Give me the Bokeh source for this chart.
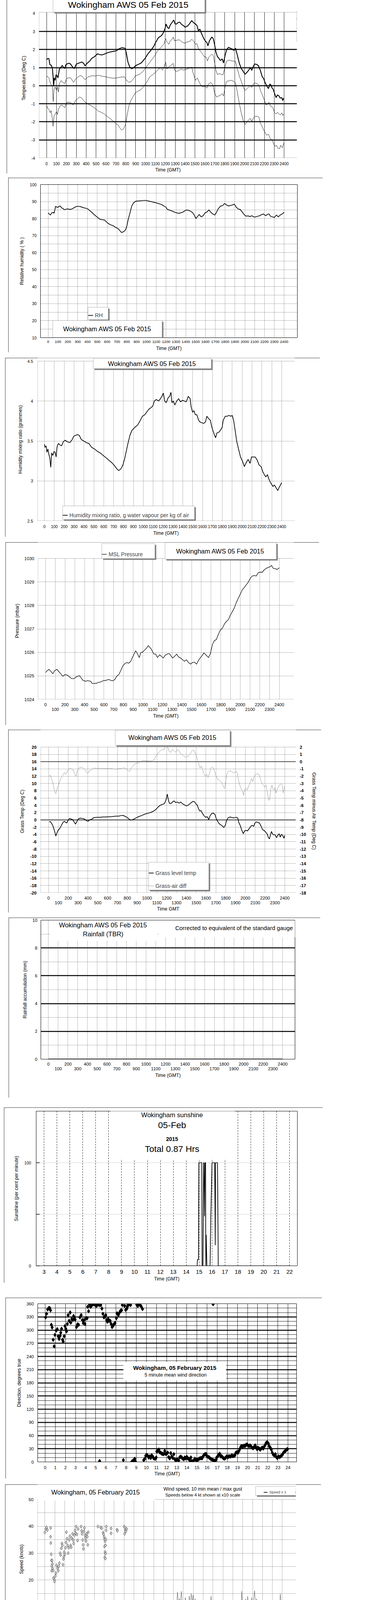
import math
from bokeh.plotting import figure
from bokeh.models import (Range1d, LinearAxis, FixedTicker, Label, BoxAnnotation,
                          Legend, LegendItem, Span, Grid)
from bokeh.layouts import column
from bokeh.embed import file_html
from bokeh.resources import INLINE

FONT = "Liberation Sans"

# ---------------- DATA (time in hours GMT) ----------------
air_temp = [(0,1.42),(0.1,1.5),(0.23,1.5),(0.33,1.17),(0.46,1.13),(0.58,0.99),(0.65,0.55),(0.71,-0.04),(0.77,0.43),(0.87,0.3),(0.96,0.61),(1.06,0.55),(1.15,0.43),(1.29,0.92),(1.42,1.0),(1.58,1.12),(1.71,1.02),(1.83,0.95),(1.96,1.17),(2.16,1.23),(2.35,1.23),(2.5,1.14),(2.64,1.02),(2.79,0.95),(3.02,1.2),(3.31,1.26),(3.56,1.31),(3.75,1.23),(3.89,1.1),(4.08,1.23),(4.37,1.37),(4.56,1.51),(4.85,1.61),(5.14,1.76),(5.37,1.72),(5.56,1.7),(5.81,1.74),(6.1,1.81),(6.39,1.86),(6.68,1.89),(7.06,1.93),(7.31,2.04),(7.6,2.1),(7.93,2.07),(8.06,1.79),(8.22,1.3),(8.41,1.02),(8.6,0.94),(8.8,0.99),(8.99,1.11),(9.28,1.18),(9.57,1.26),(9.95,1.51),(10.24,1.76),(10.53,1.95),(10.82,2.17),(11.01,2.38),(11.3,2.66),(11.59,2.76),(11.78,2.91),(11.97,3.16),(12.07,3.41),(12.22,3.22),(12.36,3.16),(12.49,3.35),(12.64,3.47),(12.84,3.63),(12.99,3.41),(13.13,3.41),(13.26,3.48),(13.45,3.52),(13.65,3.38),(13.84,3.32),(13.99,3.24),(14.22,3.29),(14.41,3.4),(14.66,3.6),(14.86,3.48),(15.05,3.41),(15.2,3.32),(15.34,3.04),(15.49,3.13),(15.63,2.91),(15.76,2.76),(15.92,2.57),(16.07,2.45),(16.2,2.38),(16.3,2.2),(16.45,2.48),(16.69,2.69),(16.84,2.6),(16.97,2.29),(17.11,1.86),(17.26,1.61),(17.42,1.51),(17.55,1.39),(17.74,1.48),(17.88,1.26),(18.03,1.67),(18.19,1.99),(18.38,2.12),(18.57,2.07),(18.76,2.03),(18.9,1.95),(19.09,2.07),(19.28,1.67),(19.48,1.23),(19.67,0.95),(19.86,0.8),(20.05,0.63),(20.25,0.74),(20.44,0.87),(20.57,1.0),(20.73,0.85),(20.88,1.05),(21.02,1.2),(21.21,1.18),(21.4,1.11),(21.59,0.86),(21.79,0.49),(21.92,0.41),(22.07,0.18),(22.27,-0.04),(22.42,-0.16),(22.56,0.09),(22.65,0.05),(22.79,-0.13),(22.9,-0.2),(23.04,-0.44),(23.19,-0.66),(23.33,-0.51),(23.48,-0.57),(23.61,-0.69),(23.77,-0.66),(23.86,-0.82),(23.96,-0.69)]
wet_bulb = [(0,0.48),(0.1,0.52),(0.23,0.43),(0.37,0.15),(0.46,0.05),(0.58,-0.01),(0.67,-0.88),(0.75,-0.2),(0.87,-0.07),(1.0,-0.26),(1.1,-0.07),(1.19,-0.35),(1.29,0.12),(1.48,0.29),(1.64,0.18),(1.83,0.12),(2.02,0.4),(2.25,0.44),(2.44,0.43),(2.73,0.18),(2.93,0.36),(3.18,0.49),(3.41,0.56),(3.6,0.52),(3.89,0.33),(4.18,0.48),(4.56,0.55),(4.95,0.54),(5.23,0.58),(5.62,0.52),(6.0,0.49),(6.39,0.44),(6.77,0.41),(7.16,0.44),(7.54,0.48),(7.87,0.49),(8.06,0.3),(8.31,0.19),(8.51,0.21),(8.7,0.33),(8.99,0.55),(9.37,0.62),(9.76,0.8),(10.14,1.08),(10.53,1.37),(10.91,1.64),(11.2,1.92),(11.39,2.03),(11.64,2.17),(11.87,2.32),(12.03,2.6),(12.16,2.42),(12.36,2.29),(12.49,2.48),(12.64,2.54),(12.8,2.69),(12.93,2.48),(13.13,2.51),(13.41,2.54),(13.61,2.45),(13.8,2.38),(13.99,2.35),(14.22,2.42),(14.47,2.45),(14.66,2.57),(14.86,2.45),(15.05,2.29),(15.2,2.32),(15.34,2.04),(15.53,1.92),(15.72,1.79),(15.92,1.61),(16.11,1.58),(16.26,1.37),(16.4,1.58),(16.69,1.74),(16.84,1.67),(16.97,1.3),(17.11,0.86),(17.26,0.61),(17.46,0.68),(17.65,0.61),(17.84,0.61),(17.99,0.99),(18.19,1.35),(18.42,1.42),(18.65,1.37),(18.9,1.36),(19.09,1.33),(19.28,0.92),(19.48,0.52),(19.67,0.24),(19.86,-0.07),(20.05,-0.26),(20.25,-0.16),(20.44,-0.07),(20.57,0.0),(20.73,-0.1),(20.88,0.09),(21.07,0.15),(21.27,0.12),(21.46,0.0),(21.65,-0.32),(21.84,-0.57),(22.04,-0.85),(22.17,-1.07),(22.33,-1.03),(22.46,-0.91),(22.61,-1.13),(22.77,-1.16),(22.88,-1.25),(23.04,-1.5),(23.19,-1.56),(23.33,-1.47),(23.48,-1.56),(23.61,-1.62),(23.77,-1.5),(23.86,-1.65),(23.96,-1.56)]
dew_point = [(0,-1.07),(0.1,-1.25),(0.23,-1.31),(0.37,-1.5),(0.46,-1.38),(0.58,-1.81),(0.65,-2.25),(0.75,-1.69),(0.87,-1.56),(1.0,-1.44),(1.1,-1.59),(1.19,-1.31),(1.39,-1.1),(1.58,-1.07),(1.71,-1.16),(1.83,-1.22),(2.02,-0.94),(2.25,-0.91),(2.44,-0.94),(2.68,-1.07),(2.93,-0.82),(3.12,-0.72),(3.31,-0.63),(3.5,-0.66),(3.7,-0.79),(3.89,-0.91),(4.08,-0.97),(4.37,-1.07),(4.66,-1.16),(4.95,-1.28),(5.23,-1.41),(5.52,-1.47),(5.81,-1.56),(6.1,-1.69),(6.39,-1.81),(6.68,-1.94),(6.97,-2.09),(7.22,-2.18),(7.41,-2.34),(7.6,-2.46),(7.79,-2.37),(7.99,-2.12),(8.12,-1.69),(8.31,-1.13),(8.51,-0.82),(8.7,-0.63),(8.99,-0.38),(9.28,-0.29),(9.57,-0.2),(9.85,-0.01),(10.14,0.21),(10.43,0.49),(10.72,0.61),(11.01,0.74),(11.3,0.92),(11.53,0.99),(11.72,0.86),(11.87,1.05),(12.03,1.3),(12.16,0.92),(12.36,1.05),(12.55,1.11),(12.8,1.23),(12.93,0.86),(13.13,0.77),(13.38,0.86),(13.61,0.92),(13.8,0.86),(13.99,0.89),(14.22,0.92),(14.47,0.99),(14.66,1.02),(14.86,0.61),(15.05,0.3),(15.24,0.43),(15.43,0.18),(15.63,-0.01),(15.82,-0.07),(16.01,-0.04),(16.2,-0.13),(16.34,0.08),(16.59,0.18),(16.78,0.06),(16.97,-0.38),(17.17,-0.63),(17.36,-0.57),(17.55,-0.54),(17.74,-0.44),(17.88,-0.57),(18.03,-0.07),(18.19,0.24),(18.42,0.27),(18.65,0.3),(18.9,0.24),(19.09,0.15),(19.28,-0.38),(19.48,-1.0),(19.67,-1.5),(19.86,-1.91),(20.05,-2.15),(20.25,-2.0),(20.44,-1.88),(20.57,-1.81),(20.73,-1.97),(20.88,-1.81),(21.07,-1.69),(21.27,-1.69),(21.46,-1.75),(21.65,-2.12),(21.84,-2.34),(22.04,-2.56),(22.23,-2.74),(22.42,-2.68),(22.61,-2.93),(22.77,-2.99),(22.92,-3.18),(23.08,-3.36),(23.23,-3.3),(23.38,-3.46),(23.54,-3.49),(23.65,-3.3),(23.81,-3.43),(23.96,-3.18)]
rel_hum = [(0,83.4),(0.1,82.7),(0.24,82.1),(0.36,83.4),(0.52,83.7),(0.6,83.1),(0.68,85.1),(0.75,87.2),(0.85,86.9),(0.95,86.5),(1.09,87.1),(1.23,87.4),(1.35,86.4),(1.51,85.9),(1.65,85.2),(1.85,85.6),(2.05,85.6),(2.25,85.4),(2.44,85.7),(2.64,86.4),(2.84,87.1),(3.04,87.2),(3.24,87.1),(3.44,86.7),(3.64,86.3),(3.83,86.1),(4.03,85.7),(4.23,84.7),(4.43,83.7),(4.73,82.1),(5.03,80.7),(5.23,79.7),(5.42,79.4),(5.72,79.2),(5.92,78.1),(6.12,77.1),(6.32,76.4),(6.62,75.8),(6.87,74.8),(7.11,74.1),(7.31,72.8),(7.47,71.8),(7.67,72.3),(7.87,73.4),(8.01,75.8),(8.15,79.7),(8.31,83.1),(8.5,87.4),(8.7,89.4),(8.9,90.2),(9.2,90.4),(9.5,90.5),(9.8,90.7),(10.1,90.5),(10.29,90.2),(10.59,89.8),(10.89,89.4),(11.19,88.9),(11.48,88.4),(11.78,87.4),(11.98,86.7),(12.12,85.4),(12.28,85.1),(12.48,84.7),(12.68,84.3),(12.88,83.7),(13.07,83.4),(13.27,83.1),(13.47,83.4),(13.67,83.7),(13.87,84.5),(14.07,85.1),(14.27,84.9),(14.46,84.4),(14.66,83.7),(14.86,82.1),(15.02,80.0),(15.16,81.0),(15.36,82.4),(15.56,81.0),(15.76,81.7),(15.96,83.4),(16.15,83.9),(16.35,85.1),(16.55,83.7),(16.75,82.7),(16.95,82.1),(17.09,83.4),(17.29,85.7),(17.54,87.4),(17.74,87.6),(17.94,88.9),(18.14,88.0),(18.34,87.4),(18.53,87.7),(18.73,88.0),(18.93,88.5),(19.13,86.7),(19.33,85.6),(19.53,85.4),(19.73,83.9),(19.93,82.4),(20.12,81.4),(20.32,81.6),(20.52,81.2),(20.72,81.7),(20.92,81.0),(21.12,81.0),(21.32,81.4),(21.52,81.7),(21.71,82.4),(21.91,82.7),(22.11,81.7),(22.31,82.5),(22.47,82.7),(22.61,81.4),(22.81,81.0),(23.01,80.7),(23.21,82.1),(23.41,81.0),(23.6,82.1),(23.8,82.7),(24.0,83.7)]
mix_ratio = [(0,3.46),(0.06,3.42),(0.16,3.44),(0.25,3.36),(0.35,3.4),(0.45,3.33),(0.54,3.29),(0.64,3.17),(0.73,3.35),(0.85,3.32),(0.97,3.37),(1.08,3.36),(1.18,3.3),(1.28,3.43),(1.41,3.47),(1.57,3.45),(1.74,3.44),(1.9,3.49),(2.09,3.51),(2.32,3.49),(2.57,3.48),(2.82,3.52),(2.96,3.56),(3.13,3.57),(3.33,3.58),(3.53,3.57),(3.72,3.52),(3.97,3.5),(4.24,3.48),(4.49,3.47),(4.78,3.42),(5.07,3.4),(5.36,3.37),(5.65,3.35),(5.94,3.32),(6.23,3.29),(6.52,3.26),(6.81,3.23),(7.1,3.19),(7.33,3.15),(7.52,3.13),(7.72,3.15),(7.91,3.19),(8.1,3.27),(8.26,3.36),(8.45,3.47),(8.65,3.57),(8.84,3.63),(9.13,3.67),(9.43,3.7),(9.66,3.75),(9.91,3.81),(10.16,3.83),(10.39,3.87),(10.58,3.9),(10.81,3.92),(10.97,3.94),(11.12,4.0),(11.32,4.02),(11.55,4.0),(11.74,4.03),(11.93,4.07),(12.03,4.1),(12.17,4.0),(12.32,3.98),(12.51,4.04),(12.67,4.06),(12.8,4.11),(12.9,3.98),(13.05,4.0),(13.19,3.95),(13.38,4.0),(13.58,4.03),(13.77,3.99),(13.97,4.01),(14.16,4.0),(14.35,3.99),(14.55,4.06),(14.74,4.03),(14.84,3.93),(14.99,3.86),(15.13,3.88),(15.26,3.83),(15.42,3.83),(15.57,3.77),(15.71,3.74),(15.9,3.73),(16.11,3.72),(16.3,3.74),(16.43,3.81),(16.62,3.78),(16.78,3.76),(16.97,3.66),(17.16,3.59),(17.32,3.54),(17.45,3.6),(17.65,3.61),(17.84,3.64),(17.98,3.67),(18.09,3.76),(18.29,3.81),(18.48,3.81),(18.67,3.82),(18.86,3.81),(19.0,3.82),(19.14,3.76),(19.3,3.63),(19.45,3.5),(19.64,3.4),(19.84,3.3),(20.03,3.25),(20.23,3.18),(20.42,3.23),(20.61,3.27),(20.81,3.22),(20.95,3.3),(21.14,3.3),(21.33,3.3),(21.53,3.26),(21.72,3.2),(21.92,3.18),(22.11,3.11),(22.25,3.08),(22.4,3.05),(22.56,3.08),(22.69,3.03),(22.83,2.99),(22.98,2.96),(23.13,2.93),(23.27,2.95),(23.46,2.91),(23.62,2.88),(23.75,2.92),(23.89,2.95),(24.0,2.98)]
msl_pressure = [(0,1025.14),(0.14,1025.21),(0.35,1025.28),(0.55,1025.19),(0.76,1025.09),(0.9,1025.21),(1.17,1025.28),(1.37,1025.18),(1.57,1025.09),(1.78,1024.98),(1.98,1025.06),(2.19,1025.04),(2.39,1024.99),(2.66,1024.89),(2.9,1024.88),(3.21,1024.97),(3.48,1025.01),(3.62,1024.94),(3.82,1024.82),(4.09,1024.77),(4.33,1024.8),(4.64,1024.77),(4.79,1024.68),(5.05,1024.68),(5.26,1024.69),(5.46,1024.73),(5.67,1024.74),(5.87,1024.79),(6.18,1024.81),(6.5,1024.85),(6.7,1024.81),(6.9,1024.79),(7.12,1024.85),(7.32,1024.99),(7.53,1025.06),(7.73,1025.23),(7.93,1025.42),(8.14,1025.52),(8.34,1025.57),(8.55,1025.54),(8.75,1025.62),(8.9,1025.76),(9.06,1025.9),(9.26,1026.07),(9.43,1025.95),(9.63,1025.78),(9.77,1025.98),(9.98,1026.02),(10.18,1026.1),(10.39,1026.19),(10.55,1026.29),(10.7,1026.22),(10.86,1026.14),(11.0,1026.02),(11.14,1025.93),(11.3,1025.93),(11.5,1025.78),(11.72,1025.9),(11.92,1025.83),(12.09,1025.76),(12.29,1025.88),(12.5,1025.93),(12.7,1025.95),(12.84,1025.88),(13.05,1025.76),(13.25,1025.83),(13.46,1025.93),(13.66,1025.81),(13.86,1025.76),(14.07,1025.69),(14.27,1025.62),(14.48,1025.69),(14.68,1025.57),(14.89,1025.5),(15.09,1025.57),(15.3,1025.59),(15.5,1025.5),(15.71,1025.66),(15.91,1025.78),(16.11,1025.88),(16.26,1025.98),(16.46,1025.9),(16.73,1025.78),(16.93,1025.95),(17.14,1026.34),(17.34,1026.5),(17.55,1026.55),(17.75,1026.77),(17.96,1026.96),(18.16,1027.03),(18.36,1027.2),(18.57,1027.32),(18.77,1027.39),(18.98,1027.59),(19.18,1027.73),(19.39,1027.9),(19.59,1028.12),(19.8,1028.31),(20.0,1028.48),(20.21,1028.67),(20.41,1028.76),(20.62,1028.88),(20.82,1028.99),(21.02,1029.15),(21.23,1029.25),(21.43,1029.27),(21.64,1029.25),(21.84,1029.39),(22.05,1029.41),(22.25,1029.41),(22.45,1029.51),(22.66,1029.58),(22.86,1029.61),(23.07,1029.65),(23.21,1029.7),(23.37,1029.58),(23.58,1029.56),(23.78,1029.53),(24.0,1029.6)]
grass_temp = [(0.06,-0.53),(0.17,-0.44),(0.32,-1.0),(0.44,-1.62),(0.55,-2.55),(0.65,-3.48),(0.74,-4.42),(0.84,-3.64),(0.97,-2.86),(1.12,-2.4),(1.28,-1.62),(1.43,-0.84),(1.6,-0.37),(1.75,-0.68),(1.85,-0.84),(2.0,0.0),(2.13,0.4),(2.27,0.25),(2.44,0.09),(2.59,-0.53),(2.74,-1.15),(2.86,-0.53),(3.01,0.25),(3.22,0.5),(3.43,0.4),(3.64,0.25),(3.85,-0.22),(4.0,-0.37),(4.17,0.0),(4.38,0.19),(4.59,0.62),(4.91,0.72),(5.22,0.72),(5.54,0.81),(5.85,0.81),(6.17,0.87),(6.48,0.93),(6.8,1.03),(7.12,1.03),(7.33,1.18),(7.54,1.24),(7.75,1.03),(7.96,0.72),(8.17,0.25),(8.34,-0.06),(8.48,0.0),(8.69,0.25),(8.91,0.56),(9.12,0.87),(9.43,1.18),(9.75,1.56),(10.06,1.8),(10.38,2.05),(10.69,2.43),(10.91,2.89),(11.12,3.51),(11.33,3.98),(11.54,4.23),(11.75,4.45),(11.85,4.91),(11.96,5.85),(12.06,7.09),(12.17,5.54),(12.27,4.6),(12.42,4.45),(12.59,4.91),(12.76,5.23),(12.91,4.76),(13.08,4.91),(13.26,4.6),(13.43,4.91),(13.6,4.45),(13.81,4.14),(14.02,3.83),(14.23,4.14),(14.44,4.6),(14.65,5.07),(14.8,5.07),(14.97,4.45),(15.12,3.98),(15.24,3.05),(15.37,2.43),(15.49,2.58),(15.64,1.8),(15.79,1.18),(15.96,0.72),(16.13,0.87),(16.27,0.09),(16.42,1.18),(16.59,1.8),(16.76,1.87),(16.91,1.49),(17.05,0.25),(17.18,-0.37),(17.33,-1.0),(17.47,-1.31),(17.64,-1.62),(17.81,-2.08),(17.96,-1.46),(18.06,-0.37),(18.23,0.56),(18.44,0.81),(18.65,0.62),(18.86,0.56),(19.07,0.72),(19.22,0.56),(19.33,-0.68),(19.49,-1.62),(19.64,-2.86),(19.79,-3.79),(19.92,-3.02),(20.06,-2.86),(20.21,-3.02),(20.38,-2.4),(20.55,-1.77),(20.69,-1.46),(20.84,-1.77),(20.97,-0.84),(21.12,-0.53),(21.26,-0.68),(21.43,-0.84),(21.6,-1.77),(21.75,-2.71),(21.89,-2.86),(22.06,-3.33),(22.23,-3.95),(22.34,-4.88),(22.44,-5.19),(22.55,-4.1),(22.65,-3.17),(22.78,-3.95),(22.91,-4.1),(23.03,-4.1),(23.16,-4.88),(23.28,-4.26),(23.43,-3.79),(23.54,-4.73),(23.66,-3.95),(23.79,-4.26),(23.92,-5.04),(24.0,-4.26)]
grass_air_diff = [(0.06,-1.98),(0.17,-1.85),(0.32,-2.44),(0.44,-2.91),(0.55,-3.69),(0.65,-4.23),(0.74,-4.39),(0.84,-3.84),(0.97,-3.37),(1.12,-2.75),(1.28,-2.21),(1.43,-1.9),(1.6,-1.51),(1.75,-1.74),(1.9,-1.35),(2.02,-1.04),(2.17,-0.89),(2.34,-1.04),(2.48,-1.12),(2.65,-1.66),(2.8,-2.05),(2.9,-1.35),(3.07,-0.89),(3.28,-0.76),(3.49,-0.86),(3.7,-1.12),(3.87,-1.51),(4.0,-1.59),(4.17,-1.23),(4.38,-1.07),(4.59,-0.89),(4.91,-0.92),(5.22,-0.93),(5.54,-0.93),(5.85,-0.95),(6.17,-0.93),(6.48,-0.96),(6.8,-1.04),(7.12,-0.96),(7.43,-0.93),(7.64,-0.86),(7.85,-0.92),(8.06,-1.2),(8.21,-1.35),(8.34,-1.04),(8.48,-0.73),(8.69,-0.39),(8.91,-0.23),(9.12,-0.19),(9.33,0.02),(9.64,0.17),(9.96,0.12),(10.23,0.08),(10.48,0.12),(10.74,0.28),(10.91,0.75),(11.12,1.14),(11.33,1.45),(11.54,1.68),(11.71,1.6),(11.79,1.91),(11.96,2.07),(12.13,1.91),(12.27,1.37),(12.42,1.29),(12.59,1.68),(12.76,1.45),(12.91,1.29),(13.08,1.63),(13.26,1.52),(13.43,1.06),(13.64,0.9),(13.85,0.64),(14.06,0.67),(14.23,0.82),(14.4,1.06),(14.57,1.48),(14.74,1.6),(14.91,1.14),(15.03,0.75),(15.16,0.12),(15.28,-0.34),(15.41,-0.89),(15.54,-0.58),(15.66,-1.12),(15.79,-1.66),(15.92,-2.0),(16.06,-1.74),(16.21,-2.16),(16.34,-1.66),(16.48,-0.89),(16.63,-0.73),(16.76,-0.89),(16.91,-1.51),(17.05,-2.05),(17.18,-2.44),(17.33,-2.52),(17.47,-2.75),(17.64,-2.91),(17.79,-3.53),(17.89,-3.69),(18.0,-2.6),(18.11,-1.74),(18.27,-1.35),(18.44,-1.23),(18.65,-1.38),(18.8,-1.59),(18.95,-1.38),(19.07,-1.35),(19.18,-1.59),(19.28,-2.44),(19.43,-3.22),(19.58,-3.76),(19.71,-4.07),(19.81,-4.62),(19.92,-3.84),(20.06,-3.69),(20.17,-3.92),(20.32,-3.37),(20.48,-2.91),(20.63,-2.29),(20.76,-2.75),(20.91,-1.98),(21.06,-1.74),(21.22,-1.66),(21.39,-1.74),(21.54,-2.44),(21.69,-2.99),(21.81,-3.22),(21.96,-3.5),(22.11,-3.22),(22.21,-4.15),(22.32,-4.85),(22.4,-5.32),(22.49,-4.93),(22.59,-3.69),(22.7,-3.22),(22.8,-3.76),(22.91,-3.92),(23.01,-3.56),(23.12,-4.31),(23.22,-3.84),(23.37,-3.45),(23.5,-3.14),(23.64,-3.06),(23.75,-3.22),(23.85,-4.31),(24.0,-3.37)]
rain_accum = [(0,0.0),(6,0.0),(12,0.0),(18,0.0),(24,0.0)]
sunshine = [(3.0,0),(14.85,0),(14.87,6),(14.95,6),(14.98,100),(15.21,100),(15.23,0),(15.3,0),(15.35,100),(15.37,100),(15.42,48),(15.45,100),(15.5,100),(15.52,0),(15.55,30),(15.6,0),(15.85,0),(15.9,45),(16.0,100),(16.2,100),(16.22,73),(16.25,20),(16.27,100),(16.42,100),(16.45,58),(16.48,0),(22.0,0)]
wind_dir = [(0.04,329),(0.14,337),(0.24,347),(0.36,350),(0.45,350),(0.53,345),(0.61,312),(0.69,306),(0.79,278),(0.89,263),(0.97,289),(1.1,299),(1.19,302),(1.28,286),(1.38,280),(1.48,287),(1.54,294),(1.62,303),(1.72,278),(1.78,274),(1.88,286),(1.96,309),(2.04,303),(2.11,297),(2.19,314),(2.27,334),(2.37,321),(2.47,340),(2.53,317),(2.63,325),(2.73,323),(2.81,332),(2.89,326),(2.96,324),(3.1,307),(3.2,313),(3.3,312),(3.44,329),(3.56,334),(3.68,323),(3.77,316),(3.85,323),(3.93,314),(4.05,327),(4.15,327),(4.21,353),(4.29,343),(4.39,358),(4.49,353),(4.57,355),(4.66,358),(4.78,359),(4.9,358),(5.04,355),(5.14,357),(5.26,358),(5.38,357),(5.49,357),(5.61,349),(5.71,337),(5.81,329),(5.91,331),(5.99,334),(6.07,323),(6.15,319),(6.23,325),(6.32,321),(6.42,321),(6.52,314),(6.62,307),(6.72,310),(6.82,314),(6.9,316),(7.04,327),(7.11,338),(7.23,334),(7.35,340),(7.45,344),(7.55,345),(7.63,357),(7.85,355),(7.96,346),(8.08,349),(8.14,354),(8.22,359),(8.32,359),(8.44,357),(9.05,358),(9.15,355),(9.27,359),(9.37,357),(9.49,354),(9.62,348),(16.6,359),
            (5.38,2),(7.73,4),(8.56,0.5),(8.66,2),(8.75,4),(8.85,7),(8.93,0.5),(9.74,4),(9.84,7),(9.94,14),(10.04,16),(10.14,14),(10.24,10),(10.34,12.5),(10.43,9),(10.53,15),(10.63,12.5),(10.73,8),(10.87,7),(10.97,10),(11.03,24),(11.13,25),(11.23,28),(11.32,22),(11.42,21),(11.52,19),(11.62,18),(11.72,18),(11.82,25),(11.92,18),(12.02,19),(12.11,21),(12.21,11),(12.31,8),(12.41,20),(12.51,12.5),(12.61,9),(12.71,17.5),(12.81,6),(12.91,3),(13.0,5.5),(13.1,5.5),(13.2,3),(13.3,10.5),(13.4,12),(13.5,10),(13.6,7.5),(13.7,6),(13.8,10),(13.9,8),(14.0,11.5),(14.1,8),(14.2,7),(14.3,3),(14.4,10),(14.5,2),(14.6,0),(14.7,4),(14.8,7),(14.9,4),(15.0,5),(15.1,5),(15.2,7),(15.3,8),(15.4,9),(15.5,8),(15.6,12.5),(15.7,16),(15.8,17.5),(15.9,18),(16.0,12.5),(16.1,11.5),(16.2,10.5),(16.3,8),(16.4,6.5),(16.5,5.5),(16.6,4),(16.7,3),(16.8,2),(16.9,5.5),(16.95,10),(17.05,12.5),(17.15,16.5),(17.25,18.5),(17.35,12.5),(17.45,13),(17.55,10),(17.65,8),(17.75,7.5),(17.85,10),(17.95,12.5),(18.05,10.5),(18.15,13),(18.25,12.5),(18.35,12.5),(18.45,15),(18.55,13),(18.65,14),(18.75,15),(18.85,21),(18.95,22),(19.05,21),(19.15,25),(19.25,30),(19.35,35),(19.45,36),(19.55,35),(19.65,37),(19.75,36),(19.85,39),(19.95,39.5),(20.05,37.5),(20.15,36),(20.25,37.5),(20.35,35),(20.45,32.5),(20.55,31),(20.65,34),(20.75,37.5),(20.85,33),(20.95,29),(21.05,32),(21.15,30.5),(21.25,28),(21.35,30.5),(21.45,32.5),(21.55,30.5),(21.65,35),(21.75,39),(21.85,43.5),(21.95,44.5),(22.05,42),(22.15,35.5),(22.25,32.5),(22.35,28),(22.45,21),(22.55,16.5),(22.65,15),(22.75,17.5),(22.85,11),(22.95,9),(23.05,12.5),(23.15,11),(23.25,12.5),(23.35,14),(23.45,16.5),(23.55,21),(23.65,23.5),(23.75,25),(23.85,28),(23.95,29)]
wind_mean = [(0,3.7),(0.2,3.9),(0.44,5.0),(0.54,3.7),(0.64,2.2),(0.83,2.4),(1.02,2.0),(1.21,2.35),(1.5,2.4),(1.8,2.65),(2.02,2.85),(2.27,2.9),(2.56,3.3),(2.85,3.5),(3.14,3.8),(3.43,4.1),(3.62,3.7),(3.82,3.2),(4.1,3.3),(4.4,4.1),(4.68,5.0),(4.88,5.8),(5.07,5.2),(5.26,4.3),(5.55,4.3),(5.84,3.9),(6.07,2.8),(6.32,3.9),(6.61,5.0),(6.8,4.95),(7.09,5.3),(7.29,4.3),(7.58,4.1),(7.87,3.9),(8.15,4.1),(8.44,4.3),(8.73,4.95),(9.02,5.3),(9.31,5.6),(9.6,4.95),(9.89,5.4),(10.18,6.0),(10.47,5.2),(10.76,6.0),(11.05,5.6),(11.28,8.5),(11.53,7.5),(11.82,7.9),(12.1,7.7),(12.36,6.6),(12.59,7.9),(12.88,8.5),(13.17,8.1),(13.32,7.3),(13.46,8.1),(13.71,9.6),(13.94,8.3),(14.13,7.3),(14.42,7.9),(14.61,7.1),(14.9,9.6),(15.19,8.5),(15.48,8.1),(15.77,6.2),(16.06,6.4),(16.35,5.9),(16.64,6.4),(16.93,8.5),(17.12,7.9),(17.41,6.2),(17.76,4.6),(18.08,4.95),(18.37,5.4),(18.76,5.6),(18.95,7.3),(19.24,6.4),(19.53,7.1),(19.82,6.6),(20.01,6.2),(20.3,6.6),(20.49,7.3),(20.78,8.1),(20.98,7.4),(21.26,7.7),(21.46,9.2),(21.75,7.3),(22.04,6.8),(22.27,5.6),(22.61,6.2),(22.99,4.7),(23.29,5.3),(23.58,6.0),(23.77,6.6),(24.0,8.8)]
# max gust, one reading every 6 minutes from 00:00
wind_gust = [6.5,8.0,5.0,8.8,6.0,5.5,3.8,4.5,3.2,5.0,2.8,4.0,6.3,3.5,4.2,6.5,3.8,5.5,4.0,6.8,4.2,6.5,4.5,7.0,4.8,6.2,5.0,7.5,5.0,6.5,4.5,8.5,5.5,7.0,4.8,8.2,5.5,4.0,7.0,4.5,6.5,5.0,8.0,5.5,9.0,6.0,9.2,6.5,9.5,7.5,6.0,8.5,5.5,7.5,5.0,8.0,5.2,7.0,4.8,6.5,4.0,5.5,7.5,5.5,9.5,6.5,8.5,5.5,8.0,6.0,7.5,3.8,6.5,9.8,6.0,7.8,5.5,8.0,5.0,7.0,5.5,8.5,5.8,7.5,6.0,8.8,6.5,9.5,7.0,8.5,6.5,9.0,6.2,8.0,6.0,9.5,7.0,10.0,6.5,10.5,7.5,9.0,6.5,10.0,7.0,8.5,6.5,11.0,8.0,9.5,7.0,12.0,9.5,10.5,9.0,11.5,8.5,12.5,9.5,11.0,9.0,12.0,9.5,8.0,11.5,9.0,12.0,10.0,12.5,9.5,11.0,9.0,11.5,9.0,15.5,11.5,13.0,12.0,15.8,10.5,12.5,9.5,13.5,10.0,12.0,10.0,14.0,11.0,15.0,12.0,14.5,10.5,13.0,10.0,11.5,9.0,11.0,8.0,10.0,6.5,9.5,7.5,10.0,8.0,9.5,8.0,11.5,9.5,14.0,10.0,11.5,8.5,9.0,7.0,9.5,6.5,8.0,5.5,8.5,6.0,9.0,6.5,10.0,7.0,9.0,6.5,10.5,5.5,9.5,12.0,9.0,11.0,8.5,12.5,9.0,11.5,9.0,10.5,8.0,15.8,9.5,12.0,10.0,13.0,9.5,14.0,10.5,12.5,10.0,13.5,10.5,12.5,16.0,11.0,13.0,10.5,12.5,9.5,11.0,8.5,11.5,8.0,9.5,7.0,8.5,6.5,8.0,6.5,9.0,6.0,8.5,6.0,10.0,7.5,9.0,7.0,10.5,8.0,14.8,10.0,9.0]
wind_x10 = [(0.0,37.7),(0.1,39),(0.17,39.6),(0.25,38.6),(0.58,39.4),(0.58,36.1),(0.6,33.8),(0.64,29.6),(0.67,27.3),(0.73,27.3),(0.77,26),(0.69,25.3),(0.77,24.4),(0.69,23.5),(0.83,23.5),(0.87,20.8),(0.96,20.1),(0.98,19.5),(1.06,21.5),(1.12,22.6),(1.18,25.5),(1.27,24.4),(1.35,23.5),(1.41,25.1),(1.47,26.3),(1.54,30),(1.6,29.3),(1.66,31.8),(1.72,33.6),(1.77,32.9),(1.83,25.7),(1.87,27.8),(1.91,28.7),(1.95,30.4),(2.02,29.6),(2.08,32),(2.14,34),(2.18,37.8),(2.24,35.4),(2.29,32.9),(2.35,30),(2.41,32),(2.47,34.9),(2.53,36.3),(2.6,32.9),(2.66,32.2),(2.72,35.6),(2.8,37.2),(2.85,34.9),(2.91,33.6),(2.99,36.7),(3.05,38.5),(3.1,37.4),(3.16,39.9),(3.24,37),(3.3,34.7),(3.35,39),(3.66,39.9),(3.72,38.3),(3.76,37.2),(3.82,34.9),(3.86,33.1),(3.89,31.6),(3.95,38.1),(3.99,39.4),(4.05,36.7),(4.11,35.8),(4.16,34.5),(4.22,37.2),(4.28,36.1),(4.34,33.1),(4.38,37.8),(5.36,39.9),(5.65,39.6),(5.75,39.3),(5.88,37.6),(5.94,37),(5.99,36.1),(6.03,35.2),(6.09,34.5),(6.15,35.2),(6.03,32.5),(6.13,32.9),(6.09,30.4),(6.13,29.8),(6.05,28.4),(6.11,28),(6.2,39.9),(6.19,38.5),(6.69,39.2),(6.69,37.4),(7.29,38.7),(7.33,38.3),(8.02,39.9),(8.1,39.4),(8.15,38.5),(8.06,37.2),(8.27,39),(8.19,38.1)]

hours = list(range(25))
hhmm_labels = {h: str(h * 100) for h in hours}
clock_labels = {h: "%02d:00" % h for h in hours}


def unz(pairs):
    return [a for a, _ in pairs], [b for _, b in pairs]


# The page is photographed at a device scale of about 1.15, so the whole design
# (written below in photo pixels) is laid out at K = 1/1.15 CSS pixels.
K = 1 / 1.15
SX = 0.99
figs = []
state = {"prev": 8}
SHADOW = "#858585"


def X(x):
    return x * SX * K


def Y(y):
    return y * K


def S(v):
    return v * K


def SI(v):
    return int(round(v * K))


def FS(size):
    return "%.1fpx" % (size * K)


class Chart:
    def __init__(self, fig, plot, x0, pph, yr, ext=False):
        fx, fy, W, H = fig
        L, R, T, B = plot
        self.fx = round(X(fx))
        self.W = round(X(fx + W)) - self.fx
        self.fy = round(Y(fy))
        self.H = round(Y(fy + H)) - self.fy
        self.L, self.R = round(X(L)), round(X(R))
        self.T, self.B = round(Y(T)), round(Y(B))
        self.F = self.fy if ext else self.T
        x0s, pphs = X(x0), X(pph)
        y0, y1 = yr
        ppu = (self.B - self.T) / (y1 - y0)
        ytop = y1 + (self.T - self.F) / ppu
        p = figure(width=self.W, height=self.H,
                   x_range=Range1d((self.L - x0s) / pphs, (self.R - x0s) / pphs),
                   y_range=Range1d(y0, ytop), output_backend="svg", toolbar_location=None, title=None,
                   min_border_left=self.L - self.fx, min_border_right=self.fx + self.W - self.R,
                   min_border_top=self.F - self.fy, min_border_bottom=self.fy + self.H - self.B)
        p.margin = (self.fy - state["prev"], 0, 0, self.fx - 8)
        state["prev"] = self.fy + self.H
        p.background_fill_color = "white"
        p.border_fill_color = "white"
        p.styles = {"outline": "1.3px solid black", "outline-offset": "-1.3px"}
        p.xgrid.grid_line_color = None
        p.ygrid.grid_line_color = None
        self.p = p
        if ext:
            p.outline_line_color = None
            fw = self.R - self.L
            p.add_layout(BoxAnnotation(left=0, right=fw, bottom=self.B - self.T, top=self.B - self.F,
                                       left_units="screen", right_units="screen",
                                       top_units="screen", bottom_units="screen",
                                       fill_color="white", fill_alpha=1.0, line_color=None))
            p.add_layout(BoxAnnotation(left=0.5, right=fw - 0.5, bottom=0.5, top=self.B - self.T,
                                       left_units="screen", right_units="screen",
                                       top_units="screen", bottom_units="screen",
                                       fill_alpha=0.0, line_color="black", line_width=1))
        else:
            p.outline_line_color = "black"
            p.outline_line_width = 1
        figs.append(p)

    def sx(self, x):
        return X(x) - self.L

    def sy(self, y):
        return self.B - Y(y)

    def text(self, x, y, s, size, style="normal", align="center"):
        self.p.add_layout(Label(x=self.sx(x), y=self.sy(y), x_units="screen", y_units="screen", text=s,
                                text_font=FONT, text_font_size=FS(size), text_font_style=style,
                                text_align=align, text_baseline="middle", text_color="black"))

    def box(self, x0, y0, x1, y1, fill="white", line="black", shadow=False):
        if shadow:
            self.box(x0 + 4, y0 + 4, x1 + 4, y1 + 4, fill=SHADOW, line=None)
        self.p.add_layout(BoxAnnotation(left=self.sx(x0), right=self.sx(x1), top=self.sy(y0),
                                        bottom=self.sy(y1), left_units="screen", right_units="screen",
                                        top_units="screen", bottom_units="screen",
                                        fill_color=fill, fill_alpha=1.0, line_color=line, line_width=1))

    def legend(self, items, box, size=16, glyph_w=15, row_h=22, pad=8, spacing=6, label_w=20,
               orient="vertical", inset=0):
        x0, y0, x1, y1 = box
        self.box(x0, y0, x1, y1, shadow=True)
        lg = Legend(items=items, location=(self.sx(x0 + inset), self.sy(y1)), orientation=orient,
                    label_text_font=FONT, label_text_font_size=FS(size),
                    label_height=SI(row_h), glyph_height=SI(row_h), glyph_width=SI(glyph_w),
                    label_width=SI(label_w), padding=SI(pad), spacing=SI(spacing), margin=0,
                    label_standoff=SI(6), border_line_color=None, background_fill_alpha=0.0)
        self.p.add_layout(lg)


def sty(ax, size=12, standoff=10, bold=False):
    ax.axis_line_color = None
    ax.major_tick_line_color = None
    ax.minor_tick_line_color = None
    ax.major_tick_out = 0
    ax.major_tick_in = 0
    ax.minor_tick_out = 0
    ax.minor_tick_in = 0
    ax.major_label_text_font = FONT
    ax.major_label_text_font_size = FS(size)
    ax.major_label_standoff = SI(standoff)
    ax.major_label_text_font_style = "bold" if bold else "normal"
    ax.major_label_text_color = "black"


def axlabel(ax, text, standoff, size=14):
    ax.axis_label = text
    ax.axis_label_text_font = FONT
    ax.axis_label_text_font_size = FS(size)
    ax.axis_label_text_font_style = "normal"
    ax.axis_label_text_color = "black"
    ax.axis_label_standoff = SI(standoff)


def setgrid(g, ticks, color="black", width=1, dash="solid"):
    g.ticker = FixedTicker(ticks=ticks)
    g.grid_line_color = color
    g.grid_line_width = S(width)
    g.grid_line_dash = dash


def extragrid(p, ticks, color="black", width=1, dash="solid"):
    g = Grid(dimension=1, ticker=FixedTicker(ticks=ticks))
    setgrid(g, ticks, color, width, dash)
    p.add_layout(g)


def yticks(p, ticks, labels=None):
    p.yaxis[0].ticker = FixedTicker(ticks=ticks)
    p.yaxis[0].major_label_overrides = labels or {t: str(t) for t in ticks}


def stagger_x(p, evens, odds, labels, size=13, s1=10, s2=1):
    ax = p.xaxis[0]
    ax.ticker = FixedTicker(ticks=evens)
    ax.major_label_overrides = {h: labels[h] for h in evens}
    sty(ax, size, s1)
    ax2 = LinearAxis(ticker=FixedTicker(ticks=odds))
    ax2.major_label_overrides = {h: labels[h] for h in odds}
    sty(ax2, size, s2)
    p.add_layout(ax2, "below")
    return ax2


# ---------------- Chart 1: temperatures ----------------
c = Chart((29, 3, 937, 517), (86, 960, 48, 477), 112, 33.5, (-4, 4), ext=True)
p = c.p
p.xaxis.ticker = FixedTicker(ticks=hours)
p.xaxis.major_label_overrides = hhmm_labels
sty(p.xaxis[0], 12, 11)
axlabel(p.xaxis[0], "Time (GMT)", 2)
yticks(p, list(range(-4, 5)))
sty(p.yaxis[0], 12, 12)
axlabel(p.yaxis[0], "Temperature (Deg C)", 10)
setgrid(p.xgrid[0], hours, "black", 1)
setgrid(p.ygrid[0], list(range(-3, 4)), "black", 3)
t, v = unz(air_temp)
r1 = p.line(t, v, line_color="black", line_width=S(2.5))
t, v = unz(wet_bulb)
r2 = p.line(t, v, line_color="black", line_width=S(1))
t, v = unz(dew_point)
r3 = p.line(t, v, line_color="black", line_width=S(1))
c.box(128, 3, 579, 48, shadow=True)
c.text(352, 26, "Wokingham AWS 05 Feb 2015", 26)
c.legend([LegendItem(label="Air temp", renderers=[r1]), LegendItem(label="Wet bulb", renderers=[r2]),
          LegendItem(label="Dew point", renderers=[r3])], (852, 45, 956, 135),
         row_h=20, pad=6, spacing=9)

# ---------------- Chart 2: relative humidity ----------------
c = Chart((34, 532, 934, 514), (105, 954, 552, 1003), 130, 32.5, (10, 100))
p = c.p
p.xaxis.ticker = FixedTicker(ticks=hours)
p.xaxis.major_label_overrides = hhmm_labels
sty(p.xaxis[0], 11, 8)
axlabel(p.xaxis[0], "Time (GMT)", 5)
yticks(p, list(range(10, 101, 10)))
sty(p.yaxis[0], 12, 11)
axlabel(p.yaxis[0], "Relative humidity ( % )", 12)
setgrid(p.xgrid[0], hours, "black", 1, "1 2")
setgrid(p.ygrid[0], list(range(15, 100, 5)), "black", 1, "1 2")
t, v = unz(rel_hum)
r = p.line(t, v, line_color="black", line_width=S(2))
c.legend([LegendItem(label="RH", renderers=[r])], (246, 913, 306, 950), row_h=25, pad=6)
c.box(141, 952, 466, 1002, shadow=True)
c.text(303, 977, "Wokingham AWS 05 Feb 2015", 19)

# ---------------- Chart 3: mixing ratio ----------------
c = Chart((24, 1063, 935, 526), (86, 956, 1072, 1542), 110, 33.42, (2.5, 4.5), ext=True)
p = c.p
p.xaxis.ticker = FixedTicker(ticks=hours)
p.xaxis.major_label_overrides = hhmm_labels
sty(p.xaxis[0], 12, 12)
axlabel(p.xaxis[0], "Time (GMT)", 3)
yticks(p, [2.5, 3, 3.5, 4, 4.5], {2.5: "2.5", 3: "3", 3.5: "3.5", 4: "4", 4.5: "4.5"})
sty(p.yaxis[0], 12, 13)
axlabel(p.yaxis[0], "Humidity mixing ratio (grammes)", 9)
setgrid(p.xgrid[0], hours, "black", 1, "1 2")
setgrid(p.ygrid[0], [3, 3.5, 4], "black", 1, "1 2")
t, v = unz(mix_ratio)
r = p.line(t, v, line_color="black", line_width=S(2))
c.legend([LegendItem(label="Humidity mixing ratio, g water vapour per kg of air", renderers=[r])],
         (161, 1498, 553, 1538), row_h=24, pad=8)
c.box(252, 1063, 603, 1094, shadow=True)
c.text(427, 1079, "Wokingham AWS 05 Feb 2015", 19)

# ---------------- Chart 4: pressure ----------------
c = Chart((26, 1605, 931, 539), (121, 950, 1653, 2068), 146, 31.54, (1024, 1030), ext=True)
p = c.p
ax2 = stagger_x(p, list(range(0, 25, 2)), list(range(1, 24, 2)), hhmm_labels, 13, 10, 1)
axlabel(ax2, "Time (GMT)", 4)
yticks(p, list(range(1024, 1031)))
sty(p.yaxis[0], 13, 10)
axlabel(p.yaxis[0], "Pressure (mbar)", 9)
setgrid(p.xgrid[0], hours, "black", 1, "1 2")
setgrid(p.ygrid[0], list(range(1025, 1030)), "black", 1, "1 2")
t, v = unz(msl_pressure)
r = p.line(t, v, line_color="black", line_width=S(1.5))
c.legend([LegendItem(label="MSL Pressure", renderers=[r])], (311, 1609, 469, 1653), row_h=24, pad=10)
c.box(499, 1606, 830, 1655, shadow=True)
c.text(663, 1631, "Wokingham AWS 05 Feb 2015", 19)

# ---------------- Chart 5: grass temperature ----------------
c = Chart((34, 2157, 929, 539), (92, 888, 2208, 2637), 117, 30.67, (-20, 20), ext=True)
p = c.p
p.extra_y_ranges = {"diff": Range1d(-18, 2 + (p.y_range.end - 20) / 2.0)}
ax2 = stagger_x(p, list(range(0, 25, 2)), list(range(1, 24, 2)), hhmm_labels, 13, 10, 1)
axlabel(ax2, "Time GMT", 2)
yticks(p, list(range(-20, 21, 2)))
sty(p.yaxis[0], 13, 11, bold=True)
axlabel(p.yaxis[0], "Grass Temp (Deg C)", 11)
rt = list(range(-18, 3))
ax_r = LinearAxis(y_range_name="diff", ticker=FixedTicker(ticks=rt))
ax_r.major_label_overrides = {t: str(t) for t in rt}
sty(ax_r, 13, 11, bold=True)
axlabel(ax_r, "Grass Temp minus Air Temp (Deg C)", 11)
p.add_layout(ax_r, "right")
setgrid(p.xgrid[0], hours, "black", 1, "1 2")
setgrid(p.ygrid[0], list(range(-18, 20, 2)), "black", 1, "1 2")
p.add_layout(Span(location=0, dimension="width", line_color="black", line_width=S(1.5), level="underlay"))
p.add_layout(Span(location=16, dimension="width", line_color="black", line_width=S(1.5), level="underlay"))
t, v = unz(grass_air_diff)
rd = p.line(t, v, line_color="#8a8a8a", line_width=S(1), y_range_name="diff")
t, v = unz(grass_temp)
rg = p.line(t, v, line_color="black", line_width=S(2))
c.legend([LegendItem(label="Grass level temp", renderers=[rg]), LegendItem(label="Grass-air diff", renderers=[rd])],
         (413, 2547, 592, 2629), row_h=24, pad=10, spacing=14)
c.box(314, 2158, 655, 2203, shadow=True)
c.text(484, 2180, "Wokingham AWS 05 Feb 2015", 19)

# ---------------- Chart 6: rainfall ----------------
c = Chart((35, 2711, 926, 530), (86, 926, 2718, 3127), 111, 32.25, (0, 10))
p = c.p
ax2 = stagger_x(p, list(range(0, 25, 2)), list(range(1, 24, 2)), hhmm_labels, 13, 9, 1)
axlabel(ax2, "Time (GMT)", 3)
yticks(p, list(range(0, 11, 2)))
sty(p.yaxis[0], 13, 10)
axlabel(p.yaxis[0], "Rainfall accumulation (mm)", 10)
setgrid(p.xgrid[0], hours, "black", 1, "1 2")
extragrid(p, [1, 3, 5, 7, 9], "black", 1, "1 2")
setgrid(p.ygrid[0], [2, 4, 6, 8], "black", 3)
t, v = unz(rain_accum)
p.line(t, v, line_color="black", line_width=S(3))
c.box(113, 2718, 432, 2778, line=None)
c.box(436, 2718, 910, 2768, line=None)
c.text(271, 2732, "Wokingham AWS 05 Feb 2015", 19)
c.text(271, 2758, "Rainfall (TBR)", 19)
c.text(660, 2741, "Corrected to equivalent of the standard gauge", 17)

# ---------------- Chart 7: sunshine ----------------
c = Chart((21, 3269, 947, 517), (102, 960, 3280, 3735), 0.74, 42.42, (0, 150))
p = c.p
p.xaxis.ticker = FixedTicker(ticks=list(range(3, 23)))
sty(p.xaxis[0], 17, 12)
axlabel(p.xaxis[0], "Time (GMT)", 3)
yticks(p, [0, 50, 100], {0: "0", 50: "", 100: "100"})
sty(p.yaxis[0], 12, 15)
axlabel(p.yaxis[0], "Sunshine (per cent per minute)", 11)
p.yaxis.major_tick_line_color = "black"
p.yaxis.major_tick_line_width = S(2)
p.yaxis.major_tick_in = SI(10)
setgrid(p.xgrid[0], list(range(3, 23)), "black", 1, "4 3")
setgrid(p.ygrid[0], [50, 100], "#9a9a9a", 1, "1 1")
t, v = unz(sunshine)
p.line(t, v, line_color="black", line_width=S(2))
c.box(323, 3279, 692, 3346, line=None)
c.box(339, 3340, 679, 3421, line=None)
c.text(506, 3291, "Wokingham sunshine", 19)
c.text(506, 3321, "05-Feb", 26)
c.text(506, 3362, "2015", 16, style="bold")
c.text(506, 3391, "Total 0.87 Hrs", 26)

# ---------------- Chart 8: wind direction ----------------
c = Chart((26, 3829, 939, 533), (112, 947, 3847, 4313), 135.5, 32.65, (0, 360))
p = c.p
p.xaxis.ticker = FixedTicker(ticks=hours)
sty(p.xaxis[0], 13, 12)
axlabel(p.xaxis[0], "Time (GMT)", 2)
yticks(p, list(range(0, 361, 30)))
sty(p.yaxis[0], 13, 12)
axlabel(p.yaxis[0], "Direction, degrees true", 10)
setgrid(p.xgrid[0], hours, "black", 1)
setgrid(p.ygrid[0], [d for d in range(10, 360, 10) if d % 30], "black", 1)
extragrid(p, list(range(30, 360, 30)), "black", 3)
t, v = unz(wind_dir)
p.scatter(t, v, marker="diamond", size=S(12), fill_color="black", line_color="black")
c.box(366, 4018, 671, 4073, line=None)
c.text(521, 4036, "Wokingham,  05 February 2015", 17, style="bold")
c.text(521, 4057, "5 minute mean wind direction", 14)

# ---------------- Chart 9: wind speed ----------------
c = Chart((24, 4379, 939, 515), (83, 956, 4423, 4819), 108, 33.43, (0, 50), ext=True)
p = c.p
ax2 = stagger_x(p, list(range(0, 23, 2)), list(range(1, 24, 2)), clock_labels, 12, 12, 1)
axlabel(ax2, "Time (GMT)", 4)
yticks(p, list(range(0, 51, 10)))
sty(p.yaxis[0], 13, 12)
axlabel(p.yaxis[0], "Speed (knots)", 9)
setgrid(p.xgrid[0], hours, "black", 1, "1 2")
setgrid(p.ygrid[0], list(range(5, 50, 5)), "black", 1, "1 2")
gust_t = [i * 0.1 for i in range(len(wind_gust))]
p.line(gust_t, wind_gust, line_color="#555555", line_width=S(1))
t, v = unz(wind_mean)
rm = p.line(t, v, line_color="black", line_width=S(2))
t, v = unz(wind_x10)
rx = p.scatter(t, v, marker="diamond", size=S(10), fill_color="#cfcfcf", line_color="#404040", line_width=S(1))
c.box(84, 4419, 432, 4427, line=None)
c.text(258, 4402, "Wokingham,  05 February 2015", 19)
c.text(574, 4392, "Wind speed, 10 min mean / max gust", 14)
c.text(574, 4410, "Speeds below 4 kt shown at x10 scale", 13)
c.legend([LegendItem(label="Speed x 1", renderers=[rm]), LegendItem(label="Speed / 10", renderers=[rx])],
         (731, 4385, 958, 4411), size=11, glyph_w=12, row_h=18, pad=4, spacing=22, label_w=50,
         orient="horizontal", inset=24)

layout = column(*figs, spacing=0)
open("out.html", "w").write(file_html(layout, INLINE))
